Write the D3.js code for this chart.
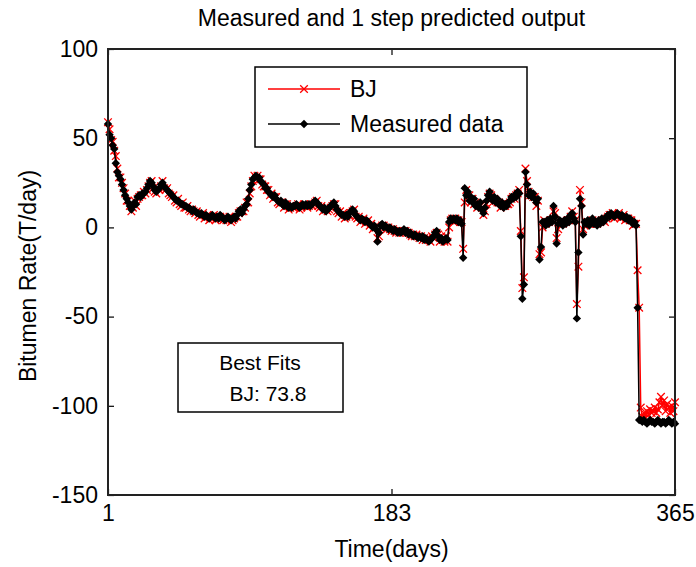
<!DOCTYPE html>
<html>
<head>
<meta charset="utf-8">
<script src="https://cdn.jsdelivr.net/npm/d3@7"></script>
<style>
  html, body { margin: 0; padding: 0; background: #fff; }
  svg { display: block; }
  text { font-family: Arial, "Liberation Sans", sans-serif; fill: #000; }
</style>
</head>
<body>
<svg id="chart" width="696" height="567"></svg>
<script>
// Daily bitumen rate (T/day): measured output and one-step BJ model prediction
const measured = [
  58, 52, 50, 46, 44, 36, 31, 29, 27, 24,
  21, 18, 16, 14, 12, 10, 12, 14, 13, 17,
  18, 17, 19, 19, 20, 22, 24, 26, 25, 23,
  21, 20, 21, 22, 24, 25, 23, 22, 21, 20,
  19, 18, 17, 16, 15, 15, 14, 13, 13, 12,
  12, 11, 11, 10, 9, 10, 9, 8, 8, 7,
  8, 7, 6, 7, 6, 5, 6, 7, 6, 5,
  6, 5, 7, 6, 5, 4, 5, 6, 5, 4,
  5, 6, 5, 7, 9, 10, 8, 10, 12, 13,
  16, 21, 24, 27, 28, 29, 28, 28, 26, 25,
  24, 22, 22, 20, 19, 18, 17, 18, 16, 15,
  14, 15, 13, 12, 14, 12, 11, 12, 11, 12,
  12, 13, 12, 11, 12, 13, 12, 13, 12, 13,
  12, 13, 14, 15, 14, 13, 12, 11, 10, 11,
  9, 10, 11, 12, 13, 14, 12, 10, 9, 8,
  7, 7, 6, 7, 6, 8, 9, 10, 9, 7,
  6, 5, 4, 5, 4, 3, 4, 3, 2, 1,
  0, 1, -1, -8, -3, 1, 2, 0, 1, 0,
  -1, 0, -1, -2, -1, -2, -3, -2, -3, -2,
  -1, -3, -2, -4, -3, -4, -5, -4, -5, -6,
  -5, -6, -5, -7, -6, -7, -8, -7, -6, -5,
  -3, -2, -5, -7, -6, -8, -7, -6, -7, 3,
  5, 4, 5, 4, 5, 3, 4, 2, -17, 22,
  18, 20, 15, 17, 14, 16, 12, 13, 11, 14,
  10, 8, 11, 15, 18, 20, 17, 15, 17, 14,
  16, 13, 12, 14, 11, 13, 12, 14, 15, 17,
  16, 18, 17, 20, 19, -5, -40, -32, 31, 24,
  18, 20, 17, 19, 16, 14, 16, -18, -11, 3,
  3, 1, 4, 2, 5, 3, 12, 6, -9, 2,
  4, 3, 1, 4, 2, 5, 3, 7, 8, 5,
  3, -51, -14, 16, 12, -4, 3, 2, 4, 1,
  3, 5, 2, 3, 1, 4, 2, 5, 3, 4,
  6, 7, 6, 8, 7, 6, 7, 8, 7, 6,
  7, 6, 5, 6, 4, 5, 3, 2, 3, 1,
  -45, -108, -108, -109, -108, -109, -110, -109, -108, -109,
  -109, -110, -109, -108, -109, -110, -109, -109, -110, -109,
  -108, -109, -110, -109, -110
];

const predictedBJ = [
  59, 55, 49, 48, 43, 40, 33, 28, 28, 25,
  22, 19, 15, 15, 12, 9, 11, 15, 12, 16,
  17, 18, 18, 20, 19, 21, 23, 25, 26, 22,
  20, 19, 22, 21, 23, 26, 22, 21, 22, 19,
  18, 17, 18, 15, 14, 16, 13, 12, 14, 11,
  11, 12, 10, 9, 10, 9, 8, 9, 7, 6,
  7, 8, 5, 6, 7, 4, 5, 6, 7, 4,
  5, 6, 6, 5, 4, 5, 4, 5, 6, 3,
  4, 5, 6, 6, 8, 9, 9, 9, 11, 14,
  14, 19, 23, 26, 29, 28, 29, 27, 27, 24,
  23, 23, 21, 21, 18, 19, 16, 17, 17, 14,
  13, 14, 14, 11, 13, 13, 10, 11, 12, 11,
  11, 12, 13, 10, 11, 12, 13, 12, 11, 12,
  13, 12, 13, 14, 15, 12, 11, 12, 9, 10,
  10, 9, 10, 11, 12, 13, 13, 9, 8, 9,
  6, 8, 5, 6, 7, 7, 8, 9, 10, 6,
  5, 6, 3, 4, 5, 2, 3, 4, 1, 2,
  -1, 0, 0, -6, -5, 0, 1, 1, 0, -1,
  0, -1, -2, -1, -2, -3, -2, -3, -2, -3,
  -2, -2, -3, -3, -4, -5, -4, -5, -4, -5,
  -6, -5, -7, -6, -7, -6, -7, -8, -5, -6,
  -4, -3, -4, -8, -5, -7, -8, -5, -8, 0,
  4, 5, 3, 5, 4, 4, 3, 3, -12, 14,
  21, 17, 18, 14, 16, 13, 14, 11, 12, 12,
  11, 7, 9, 13, 17, 19, 18, 14, 16, 15,
  14, 14, 11, 13, 12, 12, 13, 13, 14, 16,
  17, 16, 18, 19, 21, -2, -34, -28, 33, 26,
  20, 18, 18, 17, 17, 12, 15, -15, -14, 0,
  4, 2, 3, 3, 4, 4, 9, 8, -6, -1,
  3, 4, 2, 3, 3, 4, 4, 6, 9, 6,
  4, -43, -22, 21, 14, -1, 1, 3, 3, 2,
  2, 4, 3, 2, 2, 3, 3, 4, 4, 3,
  5, 6, 7, 7, 8, 5, 6, 7, 8, 5,
  6, 7, 4, 5, 5, 4, 4, 1, 2, 2,
  -24, -45, -101, -106, -104, -107, -103, -105, -102, -104,
  -103, -101, -104, -102, -98, -95, -100, -97, -103, -99,
  -101, -104, -100, -103, -98
];

const days = measured.map((_, i) => i + 1);
const xTicks = [1, 183, 365];
const yTicks = [100, 50, 0, -50, -100, -150];
const seriesNames = ["BJ", "Measured data"];
const fitLabel = "BJ: 73.8";

const svg = d3.select("#chart");
const plotLeft = 108, plotRight = 675, plotTop = 49, plotBottom = 495;

const x = d3.scaleLinear().domain([1, 365]).range([plotLeft, plotRight]);
const y = d3.scaleLinear().domain([-150, 100]).range([plotBottom, plotTop]);

// Plain hyphen-minus labels, as in the original figure
const plainLabel = d => String(d);

// Title
svg.append("text")
  .attr("x", (plotLeft + plotRight) / 2).attr("y", 26)
  .attr("text-anchor", "middle").attr("font-size", 23)
  .text("Measured and 1 step predicted output");

// Axes with inward ticks on all four sides
const gx = svg.append("g").attr("transform", `translate(0,${plotBottom})`)
  .call(d3.axisBottom(x).tickValues(xTicks).tickFormat(plainLabel)
    .tickSizeInner(-6).tickSizeOuter(0).tickPadding(10));
const gxt = svg.append("g").attr("transform", `translate(0,${plotTop})`)
  .call(d3.axisTop(x).tickValues(xTicks).tickFormat("")
    .tickSizeInner(-6).tickSizeOuter(0));
const gy = svg.append("g").attr("transform", `translate(${plotLeft},0)`)
  .call(d3.axisLeft(y).tickValues(yTicks).tickFormat(plainLabel)
    .tickSizeInner(-6).tickSizeOuter(0).tickPadding(10));
const gyr = svg.append("g").attr("transform", `translate(${plotRight},0)`)
  .call(d3.axisRight(y).tickValues(yTicks).tickFormat("")
    .tickSizeInner(-6).tickSizeOuter(0));

[gx, gxt, gy, gyr].forEach(g => {
  g.select(".domain").remove();
  g.selectAll(".tick line").attr("stroke", "#000").attr("stroke-width", 1.2);
  g.selectAll(".tick text").attr("font-size", 23)
    .attr("font-family", 'Arial, "Liberation Sans", sans-serif').attr("fill", "#000");
});
gx.selectAll(".tick text").attr("dy", "0.71em");

// Axis labels
svg.append("text")
  .attr("x", (plotLeft + plotRight) / 2).attr("y", 557)
  .attr("text-anchor", "middle").attr("font-size", 23)
  .text("Time(days)");
svg.append("text")
  .attr("transform", `translate(36,${(plotTop + plotBottom) / 2 + 4}) rotate(-90)`)
  .attr("text-anchor", "middle").attr("font-size", 23)
  .text("Bitumen Rate(T/day)");

const plot = svg.append("g");

const line = d3.line().x((d, i) => x(days[i])).y(d => y(d));

// BJ prediction: red line with x markers
plot.append("path").datum(predictedBJ)
  .attr("fill", "none").attr("stroke", "#ff0000").attr("stroke-width", 1.5)
  .attr("d", line);
const xm = 3.8;
plot.append("g").selectAll("path").data(predictedBJ).join("path")
  .attr("transform", (d, i) => `translate(${x(days[i])},${y(d)})`)
  .attr("d", `M${-xm},${-xm}L${xm},${xm}M${-xm},${xm}L${xm},${-xm}`)
  .attr("stroke", "#ff0000").attr("stroke-width", 1.3).attr("fill", "none");

// Measured output: black line with filled diamonds
plot.append("path").datum(measured)
  .attr("fill", "none").attr("stroke", "#000").attr("stroke-width", 1.5)
  .attr("d", line);
const dm = 4.2;
plot.append("g").selectAll("path").data(measured).join("path")
  .attr("transform", (d, i) => `translate(${x(days[i])},${y(d)})`)
  .attr("d", `M0,${-dm}L${dm},0L0,${dm}L${-dm},0Z`)
  .attr("fill", "#000");

// Frame
svg.append("rect")
  .attr("x", plotLeft).attr("y", plotTop)
  .attr("width", plotRight - plotLeft).attr("height", plotBottom - plotTop)
  .attr("fill", "none").attr("stroke", "#222").attr("stroke-width", 2);

// Legend
const lg = svg.append("g");
lg.append("rect").attr("x", 255).attr("y", 67).attr("width", 272).attr("height", 80)
  .attr("fill", "#fff").attr("stroke", "#000").attr("stroke-width", 1.5);
const ly = [89, 124];
lg.append("line").attr("x1", 268).attr("x2", 340).attr("y1", ly[0]).attr("y2", ly[0])
  .attr("stroke", "#ff0000").attr("stroke-width", 1.5);
lg.append("path").attr("transform", `translate(304,${ly[0]})`)
  .attr("d", `M${-xm},${-xm}L${xm},${xm}M${-xm},${xm}L${xm},${-xm}`)
  .attr("stroke", "#ff0000").attr("stroke-width", 1.3);
lg.append("line").attr("x1", 268).attr("x2", 340).attr("y1", ly[1]).attr("y2", ly[1])
  .attr("stroke", "#000").attr("stroke-width", 1.5);
lg.append("path").attr("transform", `translate(304,${ly[1]})`)
  .attr("d", `M0,${-dm}L${dm},0L0,${dm}L${-dm},0Z`).attr("fill", "#000");
seriesNames.forEach((name, i) => {
  lg.append("text").attr("x", 350).attr("y", ly[i] + 8)
    .attr("font-size", 23).text(name);
});

// Fit summary box
const fb = svg.append("g");
fb.append("rect").attr("x", 178).attr("y", 343).attr("width", 165).attr("height", 69)
  .attr("fill", "#fff").attr("stroke", "#000").attr("stroke-width", 1.5);
fb.append("text").attr("x", 260).attr("y", 370).attr("text-anchor", "middle")
  .attr("font-size", 21).text("Best Fits");
fb.append("text").attr("x", 268).attr("y", 401).attr("text-anchor", "middle")
  .attr("font-size", 21).text(fitLabel);
</script>
</body>
</html>
